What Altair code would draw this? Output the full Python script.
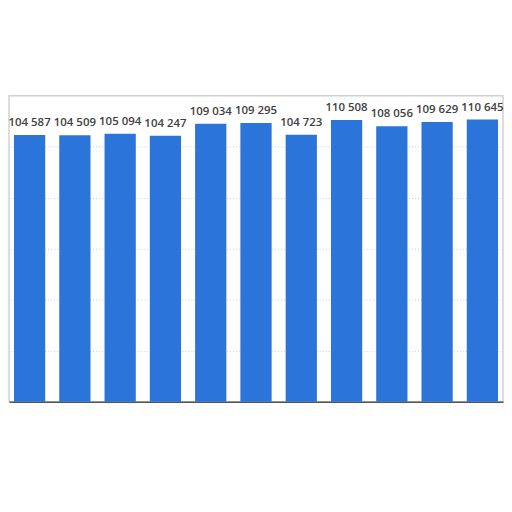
import altair as alt
import pandas as pd

categories = ["2008", "2009", "2010", "2011", "2012", "2013", "2014", "2015", "2016", "2017", "2018"]
values = [104587, 104509, 105094, 104247, 109034, 109295, 104723, 110508, 108056, 109629, 110645]
labels = [f"{v:,}".replace(",", " ") for v in values]

df = pd.DataFrame({"cat": categories, "value": values, "label": labels})

x = alt.X("cat:N", sort=categories, title=None,
          scale=alt.Scale(paddingInner=0.31, paddingOuter=0.11),
          axis=alt.Axis(labels=False, ticks=False, domain=True, domainColor="#555555",
                        domainWidth=1.5, grid=False))
y = alt.Y("value:Q", title=None,
          scale=alt.Scale(domain=[0, 120000], nice=False),
          axis=alt.Axis(labels=False, ticks=False, domain=False, grid=True,
                        gridColor="#cfcfcf", gridDash=[1, 2], gridWidth=1,
                        values=[20000, 40000, 60000, 80000, 100000]))

bars = alt.Chart(df).mark_bar(color="#2b74d9").encode(x=x, y=y)
text = alt.Chart(df).mark_text(
    font="Open Sans", fontSize=11.5, fontWeight=600, color="#404040",
    baseline="alphabetic", dy=-9
).encode(x=alt.X("cat:N", sort=categories), y="value:Q", text="label:N")

chart = (bars + text).properties(
    width=497, height=308,
    padding={"left": 0, "top": 87, "right": 0, "bottom": 0},
    background="white",
).configure_view(stroke="#d2d2d2", strokeWidth=1.5)

chart.save("out.html", embed_options={"renderer": "svg", "actions": False})
